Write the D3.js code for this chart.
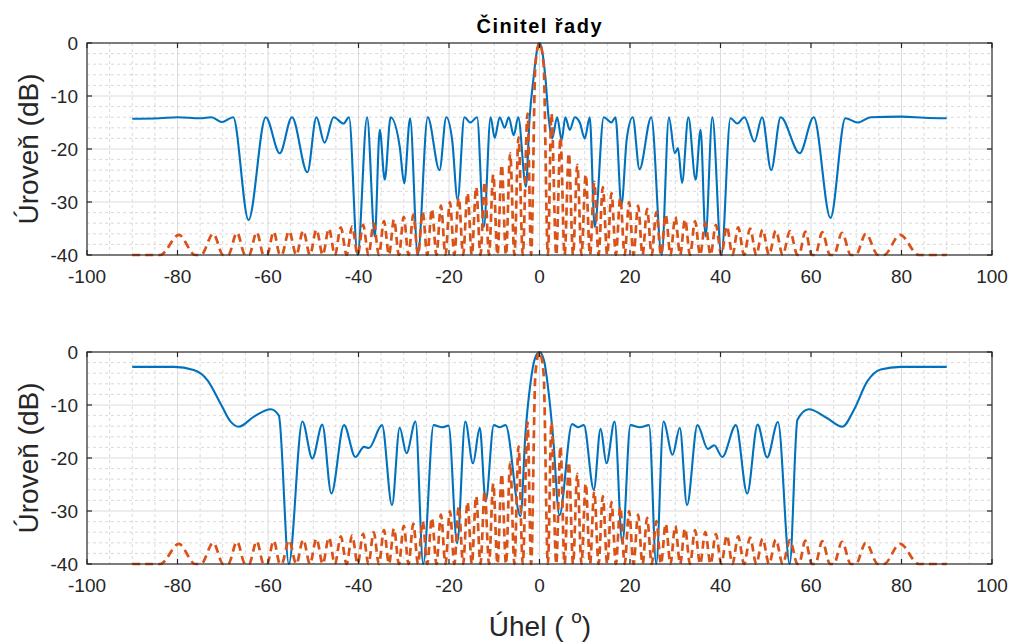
<!DOCTYPE html>
<html>
<head>
<meta charset="utf-8">
<script src="https://cdn.jsdelivr.net/npm/d3@7"></script>
<style>
  body { margin: 0; background: #fff; }
  svg { display: block; font-family: "Liberation Sans", Arial, Helvetica, sans-serif; }
</style>
</head>
<body>
<div id="chart"></div>
<script>
// --- data (angle in degrees, level in dB) ---
var titleText = "Činitel řady";
var yLabelText = "Úroveň (dB)";
var xTicks = [-100, -80, -60, -40, -20, 0, 20, 40, 60, 80, 100];
var yTicks = [-40, -30, -20, -10, 0];

// upper panel, solid blue
var topAngles = [-90, -84, -80, -75, -72.5, -70.2, -67.7, -64.3, -60.5, -57.4, -54.7, -51.3, -49.3, -47.5, -45.5, -43.3, -42.1,
  -40.2, -38.1, -36.4, -35.3, -34.2, -32.9, -30.9, -29.9, -28.6, -26.9, -24.7, -22.1, -20.6, -19.3, -18.1, -16.6, -15.3, -13.8,
  -12.3, -10.8, -9.9, -8.8, -7.7, -6.8, -5.7, -4.7, -3.0, -2.2, -1.3, -0.6, 0, 0.6, 1.3, 2.0, 2.8, 3.9, 4.9, 5.7, 6.7, 7.8,
  8.9, 10.0, 11.1, 12.2, 14.2, 15.9, 16.8, 18.1, 19.3, 20.6, 22.1, 24.7, 27.0, 28.6, 29.9, 30.6, 31.5, 32.9, 34.5, 35.6, 36.7,
  38.2, 40.2, 42.2, 43.7, 45.3, 47.5, 49.2, 51.2, 53.3, 57.5, 60.6, 64.3, 67.6, 70.3, 73.2, 80, 85, 90];
var topLevels = [-14.3, -14.2, -14.0, -14.2, -14.0, -14.9, -14.0, -33.4, -14.0, -20.8, -14.0, -24.4, -14.0, -18.8, -14.0, -15.2, -14.0,
  -40, -14.0, -36.5, -16.4, -25.8, -14.0, -19.5, -26.5, -14.2, -40, -14.0, -24.0, -14.0, -18.3, -29.6, -14.0, -15.0, -14.0,
  -34.7, -14.0, -17.9, -14.0, -16.0, -14.0, -17.4, -14.0, -27.1, -14.3, -6.5, -1.6, 0, -1.6, -6.5, -14.0, -18.0, -14.0, -18.3, -14.0, -16.4, -14.0,
  -15.0, -18.0, -14.0, -34.7, -14.0, -15.0, -14.0, -30.6, -18.0, -14.0, -23.8, -14.0, -40, -14.0, -20.8, -19.8, -26.4, -14.0, -25.8, -16.4, -36.5,
  -14.0, -40, -14.2, -15.2, -14.0, -18.6, -14.0, -24.0, -14.0, -20.8, -14.0, -33.0, -14.2, -15.0, -14.0, -13.9, -14.1, -14.2];

// lower panel, solid blue
var botAngles = [-90, -85, -80.8, -76.4, -73.4, -70.5, -68.3, -66.5, -63.1, -59.4, -57.6, -55.4, -52.4, -50.2, -48.0, -46.0,
  -43.2, -40.7, -38.8, -37.7, -34.8, -32.6, -30.9, -29.4, -27.4, -25.7, -23.4, -21.5, -20.1, -18.2, -16.4, -14.7, -13.2,
  -11.9, -10.1, -8.8, -7.5, -4.2, -3.1, -2.0, -1.0, 0, 1.0, 2.0, 3.0, 4.4, 7.2, 8.5, 9.8, 12.0, 13.5, 14.8, 16.6, 18.3, 20.1,
  22.2, 24.2, 25.8, 27.4, 29.4, 31.0, 32.6, 34.9, 37.2, 38.6, 40.4, 43.4, 45.9, 48.2, 50.3, 52.7, 55.3, 57.0, 59.5, 63.6,
  66.9, 69.5, 72.4, 75.4, 79.8, 85, 90];
var botLevels = [-2.8, -2.8, -2.8, -3.4, -5.3, -9.7, -13.1, -14.1, -12.2, -10.8, -12.0, -40, -13.1, -20.1, -13.7, -26.7,
  -13.8, -19.8, -17.9, -18.1, -13.8, -28.9, -14.3, -19.1, -13.1, -40, -13.8, -14.2, -13.9, -36.1, -13.1, -21.0, -14.3,
  -28.2, -13.8, -14.2, -13.8, -31.0, -15.3, -5.9, -1.2, 0, -1.6, -7.5, -16.0, -30.8, -13.6, -14.2, -13.8, -26.0, -14.5, -21.0, -13.1, -36.1, -13.8,
  -14.2, -13.8, -40, -13.1, -19.4, -14.3, -28.9, -13.8, -18.3, -17.6, -19.8, -13.8, -26.7, -13.7, -19.9, -13.2, -40, -12.8, -10.8, -12.5,
  -14.1, -10.9, -5.6, -3.3, -2.8, -2.8, -2.8];

// dashed orange reference pattern, positive half (symmetric about 0)
var refAngles = [0, 0.9, 1.85, 2.64, 3.70, 4.63, 5.55, 6.48, 7.41, 8.35, 9.28, 10.22, 11.16, 12.10, 13.05, 14.00, 14.96,
  15.91, 16.88, 17.85, 18.82, 19.80, 20.78, 21.78, 22.77, 23.78, 24.80, 25.82, 26.85, 27.89, 28.94, 30.00, 31.07, 32.16,
  33.26, 34.37, 35.49, 36.64, 37.80, 38.98, 40.18, 41.40, 42.64, 43.91, 45.21, 46.54, 47.90, 49.30, 50.73,
  52.22, 53.75, 55.35, 57.00, 57.35, 58.74, 60.2, 60.57, 60.95, 62.49, 64.2, 64.58, 65.05, 66.85,
  68.8, 69.30, 69.9, 72.11, 74.8, 75.42, 76.1, 79.70, 83.8, 90];
var refLevels = [0, -4.0, -40, -13.3, -40, -17.8, -40, -20.8, -40, -23.0, -40, -24.8, -40, -26.2, -40, -27.2, -40,
  -28.3, -40, -29.2, -40, -30.0, -40, -30.7, -40, -31.3, -40, -31.9, -40, -32.4, -40, -32.8, -40, -33.3,
  -40, -33.6, -40, -34.0, -40, -34.3, -40, -34.6, -40, -34.8, -40, -35.0, -40, -35.2, -40,
  -35.4, -40, -35.5, -40, -40, -35.6, -40, -40, -40, -35.7, -40, -40, -40, -35.8,
  -40, -40, -40, -36.0, -40, -40, -40, -36.2, -40, -40];

var W = 1015, H = 644;
var blue = "#0072BD", orange = "#D95319", axisCol = "#262626";

var svg = d3.select("#chart").append("svg")
  .attr("width", W).attr("height", H)
  .attr("viewBox", "0 0 " + W + " " + H);

var x = d3.scaleLinear().domain([-100, 100]).range([87, 992]);

function toPoints(angles, levels) {
  return angles.map(function (a, i) { return [a, levels[i]]; });
}
var refHalf = toPoints(refAngles, refLevels);
var refPoints = refHalf.slice(1).map(function (p) { return [-p[0], p[1]]; }).reverse().concat(refHalf);

function drawPanel(id, top, bottom, blueData) {
  var y = d3.scaleLinear().domain([-40, 0]).range([bottom, top]);
  var g = svg.append("g").attr("id", id);

  g.append("clipPath").attr("id", id + "-clip")
    .append("rect").attr("x", x(-100)).attr("y", top - 2)
    .attr("width", x(100) - x(-100)).attr("height", bottom - top + 4);

  // minor grid
  g.selectAll(".mx").data(d3.range(-95, 100, 5).filter(function (v) { return v % 20 !== 0; }))
    .enter().append("line")
    .attr("x1", function (d) { return x(d); }).attr("x2", function (d) { return x(d); })
    .attr("y1", top).attr("y2", bottom)
    .attr("stroke", "#d0d0d0").attr("stroke-width", 0.8).attr("stroke-dasharray", "3,3");
  g.selectAll(".my").data(d3.range(-38, 0, 2).filter(function (v) { return v % 10 !== 0; }))
    .enter().append("line")
    .attr("y1", function (d) { return y(d); }).attr("y2", function (d) { return y(d); })
    .attr("x1", x(-100)).attr("x2", x(100))
    .attr("stroke", "#d0d0d0").attr("stroke-width", 0.8).attr("stroke-dasharray", "3,3");
  // major grid
  g.selectAll(".gx").data(xTicks.slice(1, -1)).enter().append("line")
    .attr("x1", function (d) { return x(d); }).attr("x2", function (d) { return x(d); })
    .attr("y1", top).attr("y2", bottom)
    .attr("stroke", "#dcdcdc").attr("stroke-width", 1);
  g.selectAll(".gy").data(yTicks.slice(1, -1)).enter().append("line")
    .attr("y1", function (d) { return y(d); }).attr("y2", function (d) { return y(d); })
    .attr("x1", x(-100)).attr("x2", x(100))
    .attr("stroke", "#dcdcdc").attr("stroke-width", 1);

  var line = d3.line()
    .x(function (d) { return x(d[0]); })
    .y(function (d) { return y(d[1]); })
    .curve(d3.curveMonotoneX);

  var plot = g.append("g").attr("clip-path", "url(#" + id + "-clip)");
  plot.append("path").datum(blueData)
    .attr("d", line).attr("fill", "none")
    .attr("stroke", blue).attr("stroke-width", 2.1).attr("stroke-linejoin", "round");
  plot.append("path").datum(refPoints)
    .attr("d", line).attr("fill", "none")
    .attr("stroke", orange).attr("stroke-width", 2.7)
    .attr("stroke-dasharray", "8,5");

  // box
  g.append("rect").attr("x", x(-100)).attr("y", top)
    .attr("width", x(100) - x(-100)).attr("height", bottom - top)
    .attr("fill", "none").attr("stroke", axisCol).attr("stroke-width", 1.2);

  // ticks (inward, on all four sides)
  var tl = 5;
  xTicks.forEach(function (v) {
    g.append("line").attr("x1", x(v)).attr("x2", x(v)).attr("y1", bottom).attr("y2", bottom - tl)
      .attr("stroke", axisCol).attr("stroke-width", 1.2);
    g.append("line").attr("x1", x(v)).attr("x2", x(v)).attr("y1", top).attr("y2", top + tl)
      .attr("stroke", axisCol).attr("stroke-width", 1.2);
  });
  yTicks.forEach(function (v) {
    g.append("line").attr("x1", x(-100)).attr("x2", x(-100) + tl).attr("y1", y(v)).attr("y2", y(v))
      .attr("stroke", axisCol).attr("stroke-width", 1.2);
    g.append("line").attr("x1", x(100)).attr("x2", x(100) - tl).attr("y1", y(v)).attr("y2", y(v))
      .attr("stroke", axisCol).attr("stroke-width", 1.2);
  });

  g.selectAll(".xl").data(xTicks).enter().append("text")
    .attr("x", function (d) { return x(d); }).attr("y", bottom + 28)
    .attr("text-anchor", "middle").attr("font-size", 19).attr("fill", axisCol)
    .text(function (d) { return d; });
  g.selectAll(".yl").data(yTicks).enter().append("text")
    .attr("x", x(-100) - 9).attr("y", function (d) { return y(d); })
    .attr("dy", "0.35em")
    .attr("text-anchor", "end").attr("font-size", 19).attr("fill", axisCol)
    .text(function (d) { return d; });

  g.append("text")
    .attr("transform", "translate(38," + ((top + bottom) / 2) + ") rotate(-90)")
    .attr("text-anchor", "middle").attr("font-size", 28).attr("fill", axisCol)
    .text(yLabelText);
}

drawPanel("upper", 43, 255, toPoints(topAngles, topLevels));
drawPanel("lower", 352, 564, toPoints(botAngles, botLevels));

svg.append("text")
  .attr("x", 539).attr("y", 33)
  .attr("text-anchor", "middle").attr("font-size", 20).attr("font-weight", "bold")
  .attr("fill", "#000")
  .attr("textLength", 125).attr("lengthAdjust", "spacing")
  .text(titleText);

var xl = svg.append("text")
  .attr("x", 540).attr("y", 636)
  .attr("text-anchor", "middle").attr("font-size", 28).attr("fill", axisCol);
xl.append("tspan").text("Úhel ( ");
xl.append("tspan").attr("font-size", 19).attr("dy", -13).text("o");
xl.append("tspan").attr("dy", 13).text(")");
</script>
</body>
</html>
